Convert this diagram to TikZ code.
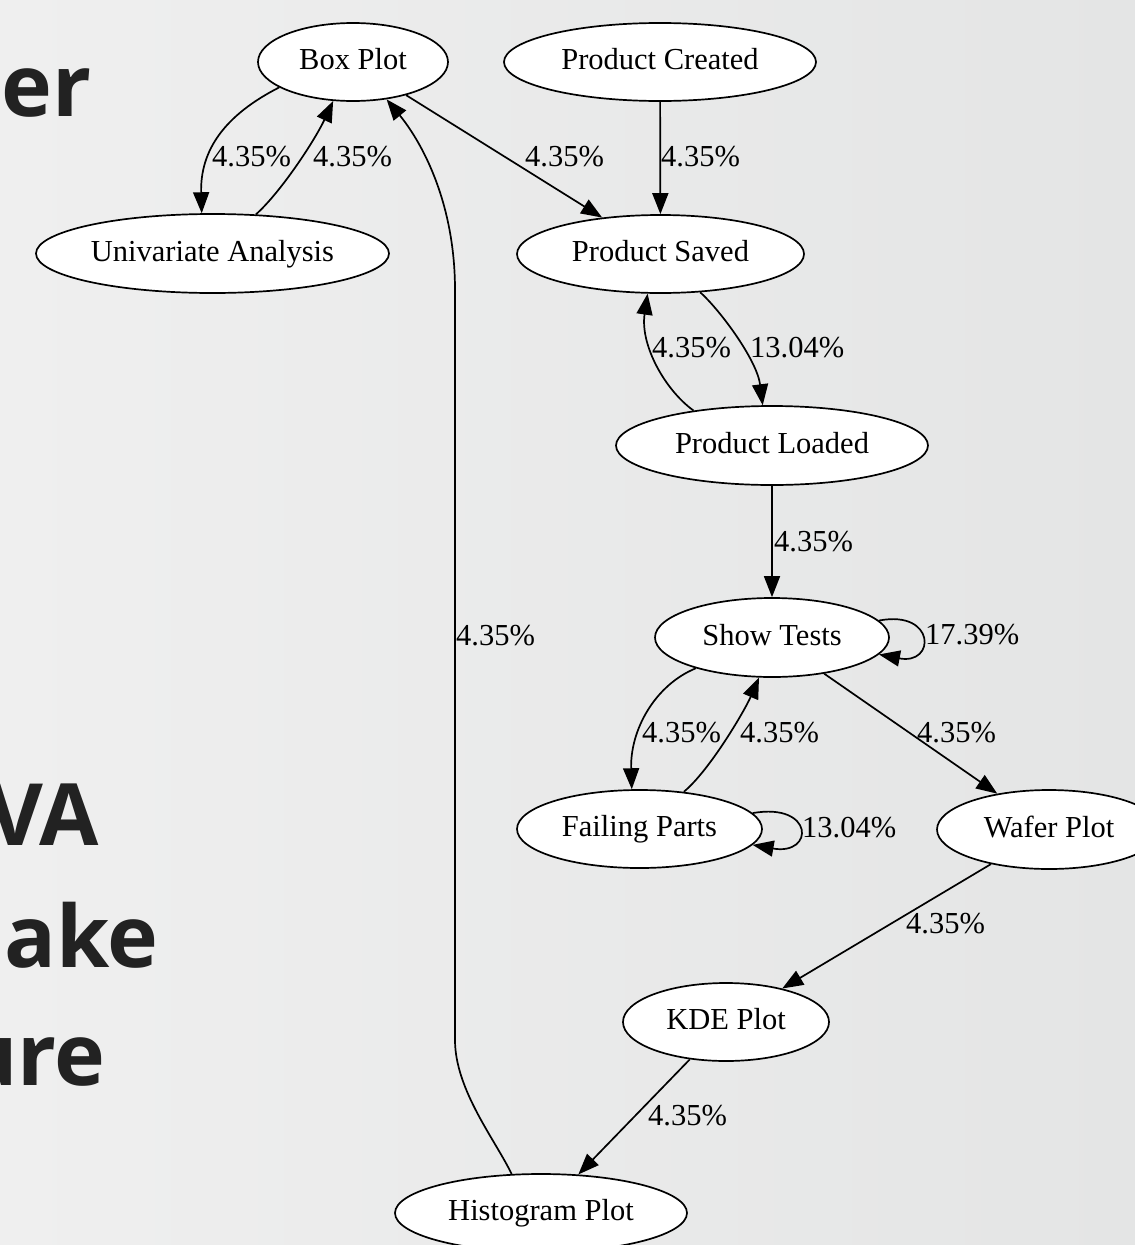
\documentclass[tikz,border=0pt]{standalone}
\usepackage{fontspec}
\setmainfont{Liberation Serif}
\newfontfamily\titlefont{Open Sans}
\usetikzlibrary{arrows.meta,shapes.geometric}
\definecolor{bgL}{HTML}{EFEFEF}
\definecolor{bgR}{HTML}{E4E5E5}
\definecolor{ttlc}{HTML}{222222}
\begin{document}
\begin{tikzpicture}[x=1pt,y=-1pt,
  st/.style={ellipse, draw=black, line width=1.7pt, fill=white, inner sep=0pt,
    font=\fontsize{30.5}{36}\selectfont, text height=21pt, text depth=6pt},
  lbl/.style={anchor=west, inner sep=0pt, font=\fontsize{30.5}{36}\selectfont},
  edge/.style={line width=1.7pt, -{Triangle[length=21pt,width=16pt]}},
  ttl/.style={anchor=base east, inner sep=0pt, text=ttlc,
    font=\titlefont\bfseries\fontsize{86}{100}\selectfont}]
\useasboundingbox (0,0) rectangle (1135,1245);
\clip (0,0) rectangle (1135,1245);
\shade[left color=bgL, right color=bgR] (0,0) rectangle (1135,1245);

% title fragments
\node[ttl] (t1) at (92,116) {er};
\node[ttl] (t2) at (99,845) {VA};
\node[ttl] (t3) at (159,967) {ake};
\node[ttl] (t4) at (106,1085) {ure};

% states
\node[st, minimum width=190pt, minimum height=78pt] (box) at (353,62) {Box Plot};
\node[st, minimum width=353pt, minimum height=79pt] (uni) at (212.5,253.5) {Univariate Analysis};
\node[st, minimum width=312pt, minimum height=78pt] (created) at (660,62) {Product Created};
\node[st, minimum width=287pt, minimum height=78pt] (saved) at (660.5,254) {Product Saved};
\node[st, minimum width=312pt, minimum height=79pt] (loaded) at (772,445.5) {Product Loaded};
\node[st, minimum width=234pt, minimum height=79pt] (show) at (772,637.5) {Show Tests};
\node[st, minimum width=245pt, minimum height=78pt] (fail) at (639.5,829) {Failing Parts};
\node[st, minimum width=224pt, minimum height=79pt] (wafer) at (1049,829.5) {Wafer Plot};
\node[st, minimum width=206pt, minimum height=78pt] (kde) at (726,1022) {KDE Plot};
\node[st, minimum width=292pt, minimum height=78pt] (hist) at (541,1213) {Histogram Plot};

\coordinate (hb1) at (455,1040);
\coordinate (hb2) at (455,290);

% transitions
\draw[edge] (box.199) .. controls (225,115) and (200,150) .. (uni.105);
\draw[edge] (uni.42) .. controls (281,192) and (315,140) .. (box.243);
\draw[edge] (box) -- (saved);
\draw[edge] (created) -- (saved);
\draw[edge] (saved.316) .. controls (720,310) and (757,360) .. (loaded.103);
\draw[edge] (loaded.156) .. controls (665,390) and (640,345) .. (saved.252);
\draw[edge] (loaded) -- (show);
\draw[edge] (show.9) .. controls +(57,-11) and +(57,11) .. (show.351);
\draw[edge] (show.202) .. controls (655,685) and (630,730) .. (fail.101);
\draw[edge] (fail.40) .. controls (710,770) and (745,710) .. (show.252);
\draw[edge] (show) -- (wafer);
\draw[edge] (fail.8) .. controls +(62,-11) and +(62,11) .. (fail.352);
\draw[edge] (wafer) -- (kde);
\draw[edge] (kde) -- (hist);
\draw[edge] (hist.127) .. controls (496,1141) and (455,1090) .. (hb1) -- (hb2)
  .. controls (455,200) and (420,140) .. (box.312);

% labels
\node[lbl] (l1) at (212,157) {4.35\%};
\node[lbl] (l2) at (313,157) {4.35\%};
\node[lbl] (l3) at (525,157) {4.35\%};
\node[lbl] (l4) at (661,157) {4.35\%};
\node[lbl] (l5) at (750,348) {13.04\%};
\node[lbl] (l6) at (652,348) {4.35\%};
\node[lbl] (l7) at (774,542) {4.35\%};
\node[lbl] (l8) at (925,635) {17.39\%};
\node[lbl] (l9) at (642,733) {4.35\%};
\node[lbl] (l10) at (740,733) {4.35\%};
\node[lbl] (l11) at (917,733) {4.35\%};
\node[lbl] (l12) at (802,828) {13.04\%};
\node[lbl] (l13) at (906,924) {4.35\%};
\node[lbl] (l14) at (648,1116) {4.35\%};
\node[lbl] (l15) at (456,636) {4.35\%};
\end{tikzpicture}
\end{document}
